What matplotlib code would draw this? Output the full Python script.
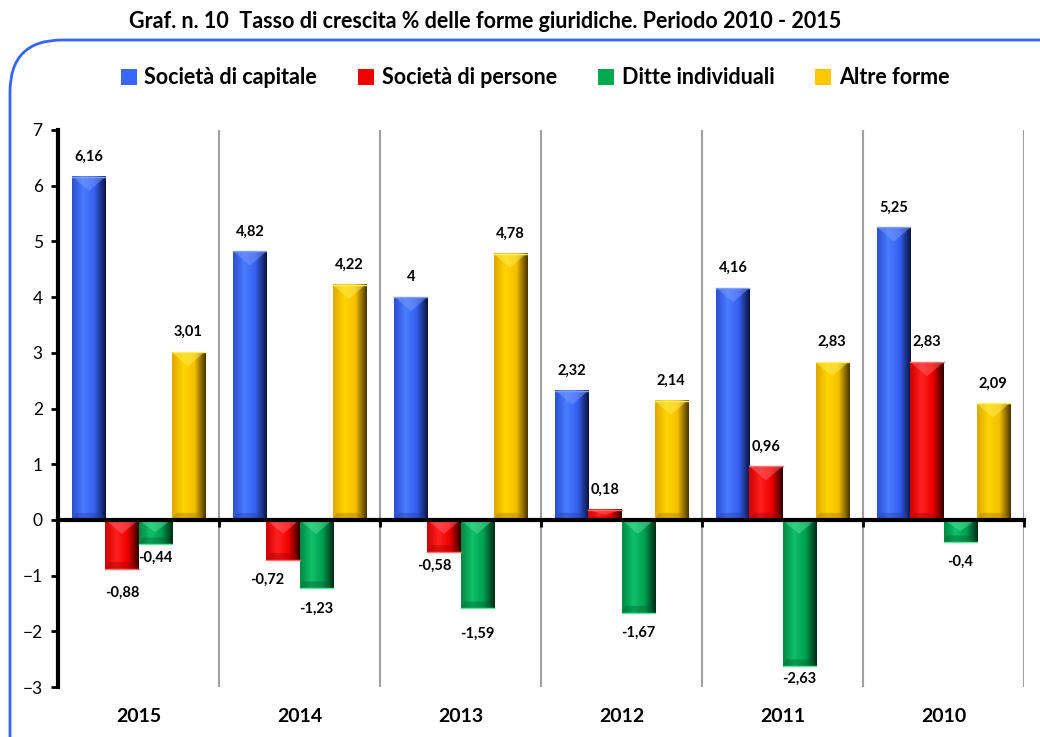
import numpy as np
import matplotlib.pyplot as plt
from matplotlib.colors import LinearSegmentedColormap
from matplotlib.patches import FancyBboxPatch, Polygon, Patch
import matplotlib.transforms as mtransforms

# ---------------------------------------------------------------
# Data
# ---------------------------------------------------------------
years = ["2015", "2014", "2013", "2012", "2011", "2010"]
series_names = ["Società di capitale", "Società di persone",
                "Ditte individuali", "Altre forme"]
capitale = [6.16, 4.82, 4.00, 2.32, 4.16, 5.25]
persone = [-0.88, -0.72, -0.58, 0.18, 0.96, 2.83]
ditte = [-0.44, -1.23, -1.59, -1.67, -2.63, -0.40]
altre = [3.01, 4.22, 4.78, 2.14, 2.83, 2.09]
values = [capitale, persone, ditte, altre]

# ---------------------------------------------------------------
# Styles
# ---------------------------------------------------------------
base_colors = ["#3A66F5", "#F00000", "#00A850", "#FFC800"]
gradients = [
    ["#2A50D0", "#4A7CFF", "#3660F0", "#0A1440"],
    ["#D00000", "#FF2020", "#F00000", "#300000"],
    ["#008A45", "#10C068", "#00A050", "#002A14"],
    ["#E0A800", "#FFD400", "#F5C000", "#4A3400"],
]
light_caps = ["#7FA0FF", "#FF7070", "#5CE6A0", "#FFF060"]
dark_caps = ["#2240A0", "#A00000", "#006030", "#A07800"]

# label tweaks (dx, dy in pixels) for a few manually moved labels
label_shift = {(1, 1): (-16, 0), (1, 2): (-10, -6), (2, 0): (0, -7),
               (2, 4): (0, -8), (1, 0): (0, 4), (2, 2): (0, 5)}

bar_w = 0.205
fs_font = ["Lato", "DejaVu Sans"]
plt.rcParams["font.family"] = fs_font

fig = plt.figure(figsize=(10.4, 7.37), dpi=100)

# rounded blue frame
frame = FancyBboxPatch((10 / 1040, -0.1), 1.1, 1 - 40 / 737 + 0.1,
                       boxstyle="round,pad=0,rounding_size=0.05",
                       transform=fig.transFigure, fill=False,
                       edgecolor="#3366FF", linewidth=2, clip_on=False,
                       mutation_aspect=1040 / 737)
fig.patches.append(frame)

fig.text(485 / 1040, 1 - 22 / 737,
         "Graf. n. 10  Tasso di crescita % delle forme giuridiche. Periodo 2010 - 2015",
         ha="center", va="center", fontsize=15.5, fontweight="bold")

ax = fig.add_axes([58 / 1040, 1 - 687 / 737, 966 / 1040, 557 / 737])
ax.set_xlim(0, len(years))
ax.set_ylim(-3, 7)

# category separators
for b in range(1, len(years) + 1):
    ax.axvline(b, color="#A0A0A0", linewidth=1.5, zorder=1)

px = 10.0 / 557  # data units per pixel (y)

for s, vals in enumerate(values):
    cmap = LinearSegmentedColormap.from_list("g%d" % s, gradients[s])
    grad = np.linspace(0, 1, 64).reshape(1, -1)
    for i, v in enumerate(vals):
        x0 = i + 0.5 - 2 * bar_w + s * bar_w
        x1 = x0 + bar_w
        top, bot = max(v, 0), min(v, 0)
        ax.imshow(grad, cmap=cmap, extent=[x0, x1, bot, top],
                  aspect="auto", interpolation="bilinear", zorder=3)
        h = top - bot
        d = min(14 * px, h * 0.5)
        xc = (x0 + x1) / 2
        inset = bar_w * 0.12
        ax.add_patch(Polygon([[x0, top], [x1, top], [xc, top - d]],
                             closed=True, facecolor=light_caps[s],
                             alpha=0.45, edgecolor="none", zorder=4))
        db = min(7 * px, h * 0.3)
        ax.add_patch(Polygon([[x0, bot], [x1, bot], [x1 - inset, bot + db],
                              [x0 + inset, bot + db]],
                             closed=True, facecolor=dark_caps[s],
                             alpha=0.4, edgecolor="none", zorder=4))
        ax.plot([x0, x1], [top, top] if v >= 0 else [bot, bot],
                color=light_caps[s], linewidth=1, zorder=5)

        dx, dy = label_shift.get((s, i), (0, 0))
        txt = ("%g" % v).replace(".", ",")
        if v >= 0:
            ax.annotate(txt, (xc, top), xytext=(dx * 0.72, (20 + dy) * 0.72),
                        textcoords="offset points", ha="center", va="center",
                        fontsize=10.5, fontweight="bold", zorder=6)
        else:
            ax.annotate(txt, (xc, bot), xytext=(dx * 0.72, -(20 + dy) * 0.72),
                        textcoords="offset points", ha="center", va="center",
                        fontsize=10.5, fontweight="bold", zorder=6)

# axes styling
for side in ["top", "right"]:
    ax.spines[side].set_visible(False)
ax.spines["bottom"].set_position(("data", 0))
ax.spines["bottom"].set_linewidth(3)
ax.spines["left"].set_linewidth(3)
ax.spines["bottom"].set_zorder(7)
ax.set_xticks(range(0, len(years) + 1))
ax.set_xticklabels([])
ax.tick_params(axis="x", direction="out", length=5, width=2)
ax.set_yticks(range(-3, 8))
ax.tick_params(axis="y", direction="out", length=5, width=2, labelsize=12.5, pad=6)

trans = mtransforms.blended_transform_factory(ax.transData, ax.transAxes)
for i, y in enumerate(years):
    ax.text(i + 0.5, -29 / 557, y, transform=trans, ha="center", va="center",
            fontsize=14, fontweight="bold")

handles = [Patch(facecolor=c, edgecolor="none") for c in base_colors]
fig.legend(handles, series_names, loc="center", bbox_to_anchor=(535 / 1040, 1 - 78 / 737),
           ncol=4, frameon=False, handlelength=0.75, handleheight=0.75,
           handletextpad=0.35, columnspacing=1.9,
           prop={"size": 15.5, "weight": "bold", "family": fs_font})

fig.savefig("out.png", dpi=100)
